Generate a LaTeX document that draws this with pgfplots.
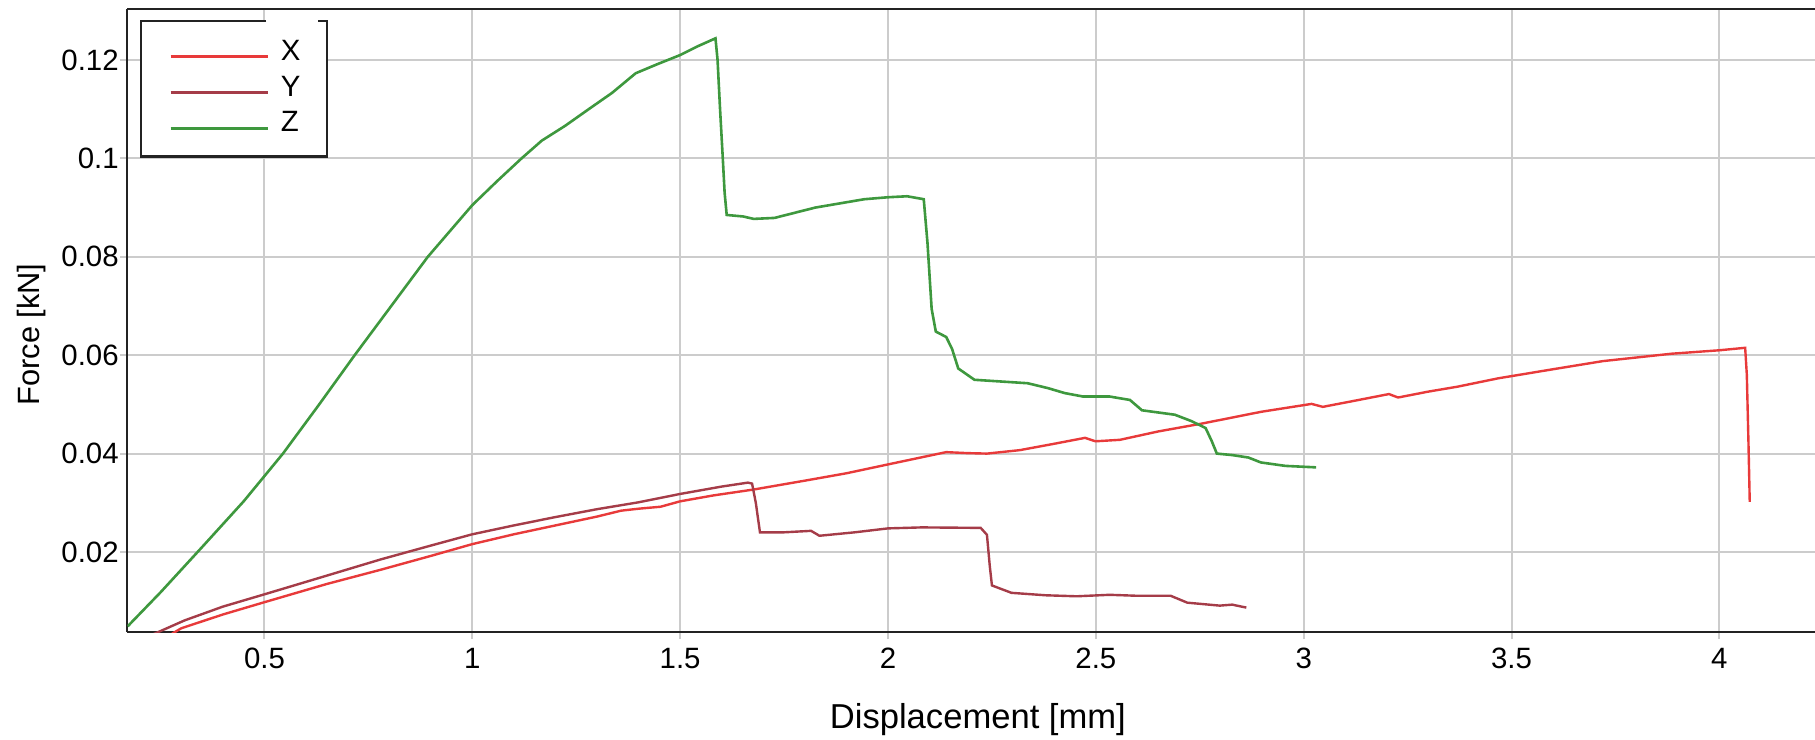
\documentclass[border=0pt]{standalone}
\usepackage{fontspec}
\setmainfont{Liberation Sans}
\usepackage{pgfplots}
\usepackage{pgfplotstable}
\pgfplotsset{compat=1.18}
\definecolor{cX}{RGB}{232,58,58}
\definecolor{cY}{RGB}{165,60,72}
\definecolor{cZ}{RGB}{62,152,62}
\definecolor{gridc}{RGB}{204,204,204}
\definecolor{axc}{RGB}{35,35,35}
\newcommand\cf{\fontsize{14.7}{17.6}\selectfont}

\pgfplotstableread{
x y
0.270 0.0030
0.300 0.0045
0.400 0.0073
0.500 0.0098
0.650 0.0135
0.780 0.0164
0.900 0.0192
1.000 0.0216
1.100 0.0236
1.200 0.0254
1.300 0.0272
1.358 0.0284
1.400 0.0288
1.453 0.0292
1.500 0.0303
1.580 0.0315
1.677 0.0327
1.800 0.0345
1.900 0.0360
2.000 0.0378
2.140 0.0403
2.190 0.0401
2.238 0.0400
2.317 0.0407
2.400 0.0420
2.474 0.0432
2.499 0.0425
2.558 0.0428
2.650 0.0445
2.755 0.0461
2.898 0.0485
3.019 0.0501
3.046 0.0495
3.120 0.0507
3.205 0.0521
3.227 0.0514
3.300 0.0526
3.370 0.0536
3.468 0.0553
3.611 0.0573
3.720 0.0588
3.885 0.0603
4.000 0.0610
4.062 0.0615
4.066 0.0560
4.070 0.0420
4.073 0.0302
}\dataX

\pgfplotstableread{
x y
0.225 0.0030
0.308 0.0061
0.400 0.0089
0.500 0.0114
0.650 0.0152
0.780 0.0185
0.900 0.0213
1.000 0.0236
1.100 0.0254
1.200 0.0271
1.300 0.0287
1.400 0.0301
1.500 0.0318
1.600 0.0333
1.663 0.0341
1.673 0.0339
1.682 0.0300
1.692 0.0240
1.750 0.0240
1.815 0.0243
1.835 0.0233
1.920 0.0240
2.000 0.0248
2.081 0.0250
2.223 0.0249
2.238 0.0235
2.245 0.0170
2.250 0.0132
2.297 0.0117
2.380 0.0112
2.454 0.0110
2.533 0.0113
2.600 0.0111
2.680 0.0111
2.720 0.0097
2.798 0.0091
2.828 0.0093
2.862 0.0087
}\dataY

\pgfplotstableread{
x y
0.171 0.0049
0.250 0.0118
0.350 0.0210
0.450 0.0303
0.5445 0.0400
0.630 0.0498
0.717 0.0600
0.805 0.0700
0.893 0.0800
0.950 0.0856
1.000 0.0905
1.060 0.0954
1.1185 0.1000
1.167 0.1036
1.223 0.1066
1.280 0.1100
1.336 0.1133
1.393 0.1173
1.441 0.1190
1.500 0.1210
1.540 0.1227
1.585 0.1244
1.590 0.1200
1.596 0.1100
1.602 0.1009
1.607 0.0930
1.612 0.0885
1.651 0.0882
1.677 0.0877
1.727 0.0879
1.825 0.0900
1.943 0.0917
2.000 0.0921
2.046 0.0923
2.086 0.0917
2.095 0.0828
2.105 0.0694
2.115 0.0648
2.140 0.0637
2.154 0.0613
2.169 0.0573
2.208 0.0550
2.336 0.0543
2.385 0.0533
2.425 0.0523
2.469 0.0516
2.533 0.0516
2.582 0.0509
2.611 0.0488
2.690 0.0479
2.730 0.0466
2.764 0.0452
2.779 0.0425
2.791 0.0400
2.828 0.0397
2.867 0.0392
2.897 0.0382
2.956 0.0375
3.030 0.0372
}\dataZ

\begin{document}
\begin{tikzpicture}
\begin{axis}[
  at={(0,0)}, anchor=south west,
  scale only axis, width=844pt, height=311.5pt,
  xmin=0.17, xmax=4.23, ymin=0.0037, ymax=0.1303,
  axis x line*=box, axis y line*=left,
  axis line style={axc, line width=1.2pt},
  xtick={0.5,1,1.5,2,2.5,3,3.5,4},
  xticklabels={0.5,1,1.5,2,2.5,3,3.5,4},
  ytick={0.02,0.04,0.06,0.08,0.1,0.12},
  yticklabels={0.02,0.04,0.06,0.08,0.1,0.12},
  xtick pos=bottom, ytick pos=left,
  tick align=outside, major tick length=3.5pt,
  tick style={gridc, line width=1pt},
  grid=major, major grid style={gridc, line width=1pt},
  xticklabel style={font=\cf, yshift=-1pt},
  yticklabel style={font=\cf, inner xsep=0.6pt},
  xlabel={Displacement [mm]},
  ylabel={Force [kN]},
  xlabel style={font=\fontsize{17.3}{20}\selectfont, at={(axis description cs:0.504,-0.140)}, anchor=center},
  ylabel style={font=\fontsize{15.4}{18}\selectfont, at={(axis description cs:-0.0569,0.478)}, anchor=center},
  legend style={at={(axis description cs:0.0247,0.9544)}, anchor=north west,
    draw=none, fill=none, font=\cf, inner sep=0pt, row sep=4.3pt,
    nodes={inner sep=1pt}},
  legend cell align=left,
  legend image code/.code={\draw[#1, line width=1.3pt] (0pt,-2.5pt) -- (48.5pt,-2.5pt); \path (53.5pt,0pt);},
]
\addplot[cX, line width=1.2pt] table[x=x,y=y] {\dataX};
\addplot[cY, line width=1.2pt] table[x=x,y=y] {\dataY};
\addplot[cZ, line width=1.3pt] table[x=x,y=y] {\dataZ};
\fill[white] (axis description cs:0.00812,0.7636) rectangle (axis description cs:0.1183,0.9812);
\draw[axc, line width=1.2pt] (axis description cs:0.0822,0.9812) -- (axis description cs:0.00812,0.9812) -- (axis description cs:0.00812,0.7636) -- (axis description cs:0.1183,0.7636) -- (axis description cs:0.1183,0.9812) -- (axis description cs:0.1130,0.9812);
\legend{X,Y,Z}
\end{axis}
\pgfresetboundingbox
\path[use as bounding box] (-63.65pt,-53.5pt) rectangle (844pt,316.15pt);
\end{tikzpicture}
\end{document}
